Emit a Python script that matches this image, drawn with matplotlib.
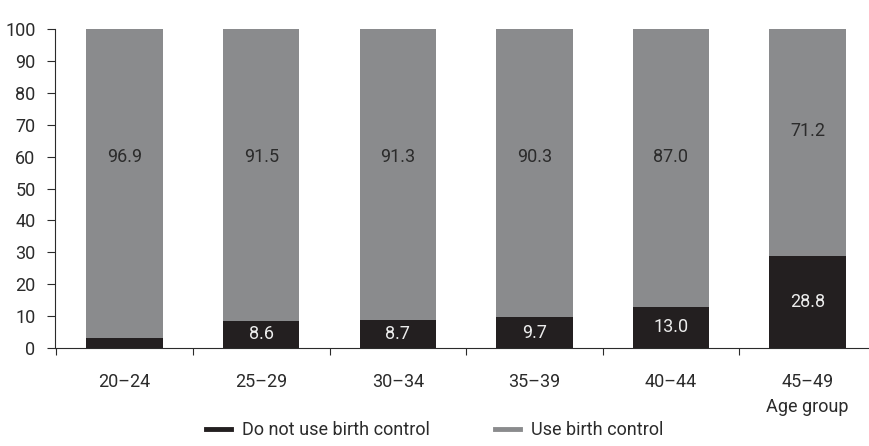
import matplotlib.pyplot as plt
import numpy as np

groups = ["20–24", "25–29", "30–34", "35–39", "40–44", "45–49"]
no_use = [3.1, 8.6, 8.7, 9.7, 13.0, 28.8]
use = [96.9, 91.5, 91.3, 90.3, 87.0, 71.2]
no_use_labels = ["", "8.6", "8.7", "9.7", "13.0", "28.8"]
use_labels = ["96.9", "91.5", "91.3", "90.3", "87.0", "71.2"]

plt.rcParams['font.family'] = ['Roboto', 'DejaVu Sans']

black = '#231f20'
grey = '#8a8b8d'
txt = '#2b2b2b'

fig = plt.figure(figsize=(8.69, 4.46), dpi=100)
ax = fig.add_axes([0.0633, 0.2197, 0.9367, 0.7153])

x = np.arange(len(groups))
use_top = [100 - v for v in no_use]
ax.bar(x, no_use, width=0.56, color=black, label="Do not use birth control")
ax.bar(x, use_top, bottom=no_use, width=0.56, color=grey, label="Use birth control")

for i in x:
    if no_use_labels[i]:
        ax.text(i, no_use[i] / 2, no_use_labels[i], ha='center', va='center',
                color='#ececec', fontsize=13)
    ly = 68 if i == 5 else 60
    ax.text(i, ly, use_labels[i], ha='center', va='center', color=txt, fontsize=13)

ax.set_ylim(0, 100)
ax.set_xlim(-0.51, 5.45)
ax.set_yticks(range(0, 101, 10))
ax.set_xticks(np.arange(-0.5, 5, 1))
ax.set_xticklabels([])
ax.set_xticks(x, minor=True)
ax.set_xticklabels(groups, minor=True)
ax.tick_params(axis='x', which='minor', length=0, pad=18, labelsize=13, labelcolor=txt)
ax.tick_params(axis='x', which='major', length=5, color=txt)
ax.tick_params(axis='y', length=6, color=txt, labelsize=13, labelcolor=txt, pad=8)
ax.spines['top'].set_visible(False)
ax.spines['right'].set_visible(False)
ax.spines['left'].set_color(txt)
ax.spines['bottom'].set_color(txt)

ax.text(5, -0.185, "Age group", transform=ax.get_xaxis_transform(), ha='center',
        va='center', color=txt, fontsize=13)

handles = [plt.Line2D([], [], color=black, lw=3.5), plt.Line2D([], [], color=grey, lw=3.5)]
fig.legend(handles, ["Do not use birth control", "Use birth control"], loc='center',
           bbox_to_anchor=(0.5, 0.035), ncol=2, frameon=False, fontsize=13,
           handlelength=1.4, handletextpad=0.6, columnspacing=3.6, labelcolor=txt)

fig.savefig("out.png", dpi=100)
